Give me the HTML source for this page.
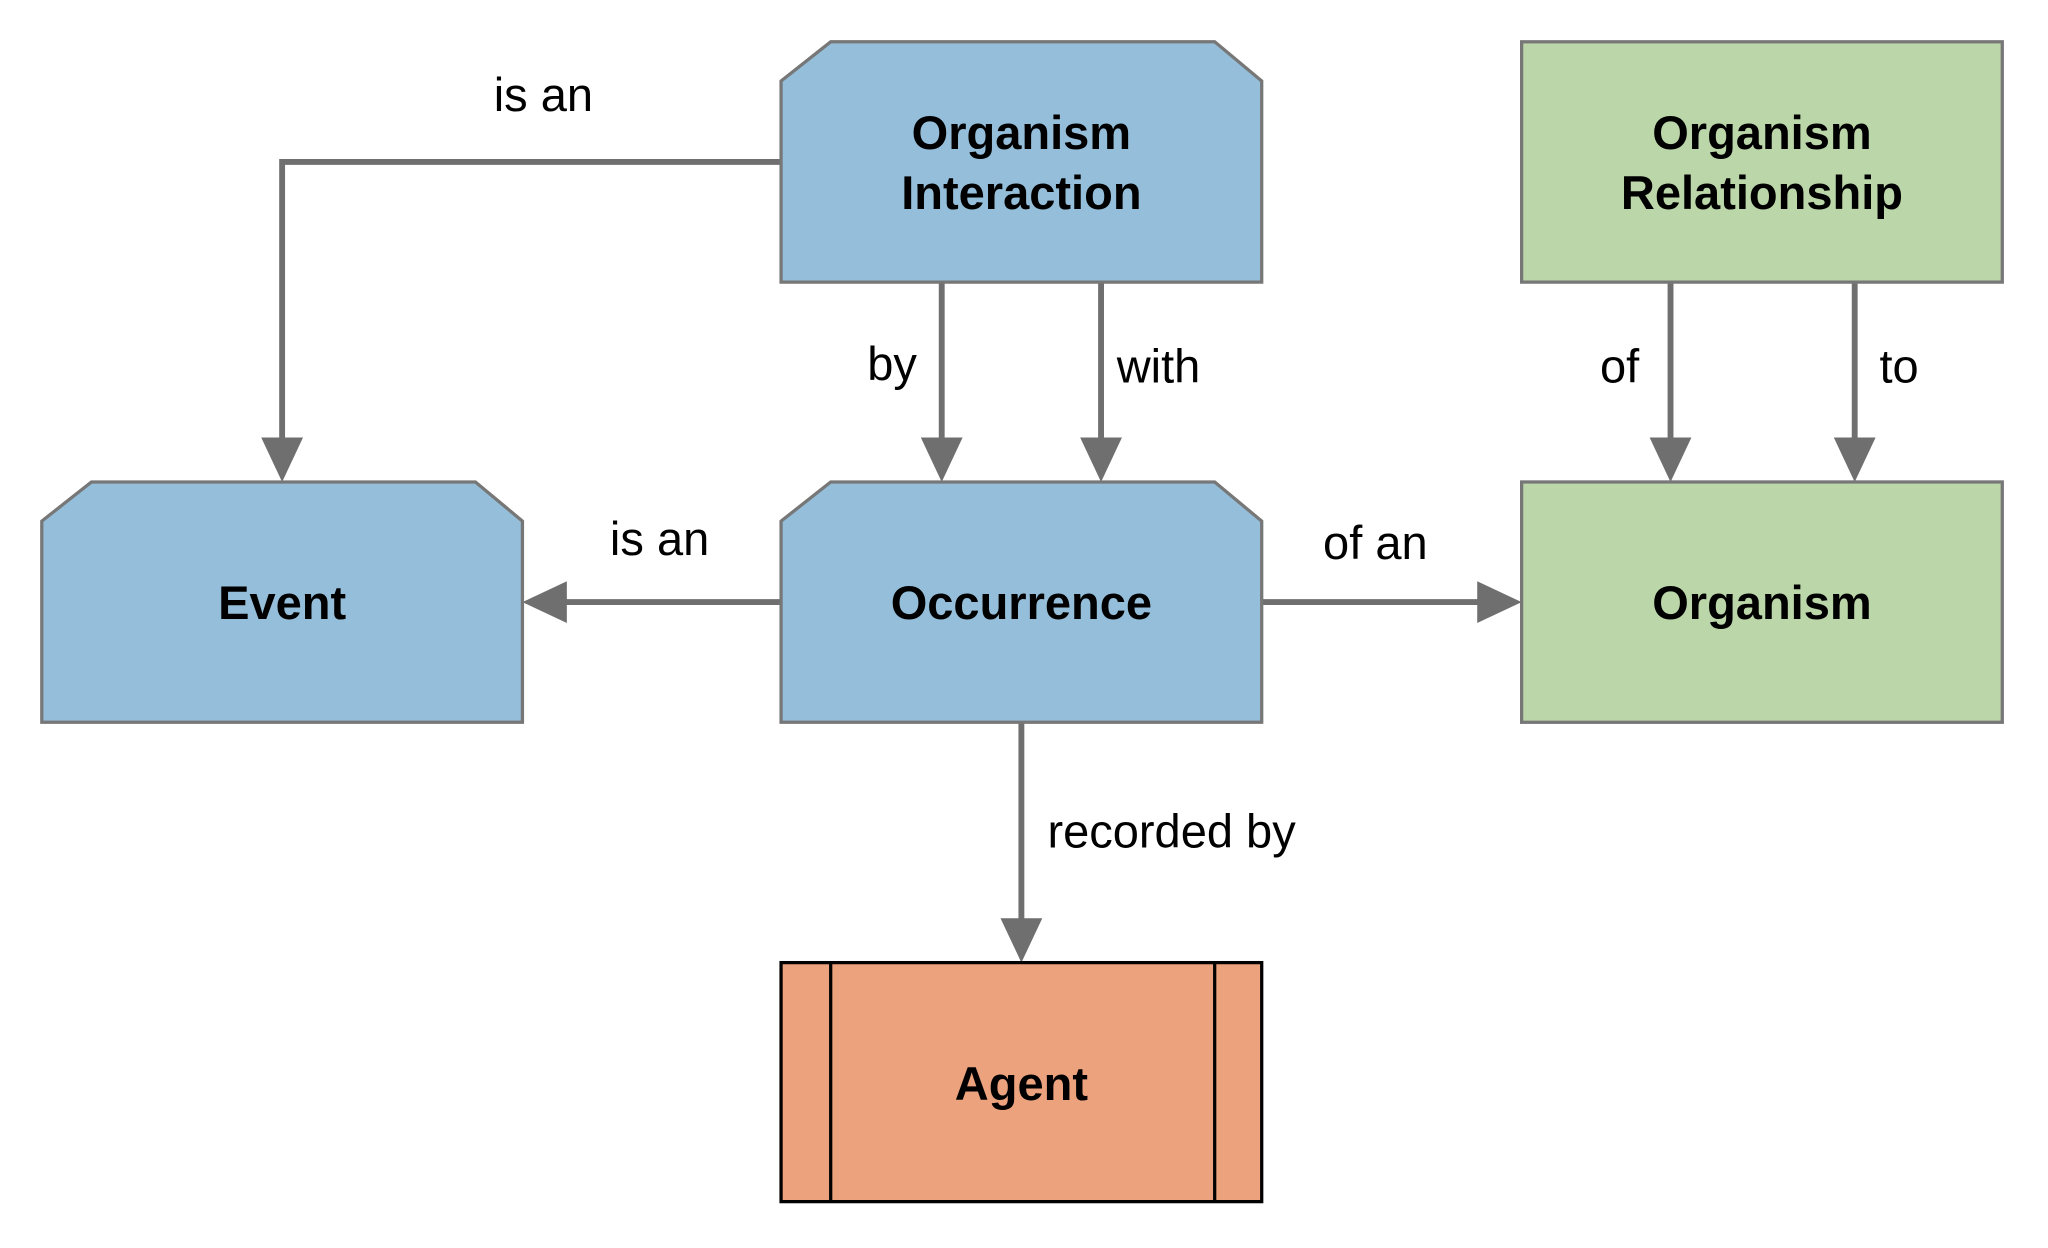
<!DOCTYPE html>
<html><head><meta charset="utf-8"><style>html,body{margin:0;padding:0;background:#fff;}svg{display:block}</style></head>
<body>
<svg width="2048" height="1248" viewBox="0 0 1568 955.5" preserveAspectRatio="none" xmlns="http://www.w3.org/2000/svg" font-family="'Liberation Sans', Arial, sans-serif">
<g stroke="#6f6f6f" stroke-width="4.5" fill="none">
<polyline points="598,124 216,124 216,340"/>
<line x1="721" y1="216" x2="721" y2="340"/>
<line x1="843" y1="216" x2="843" y2="340"/>
<line x1="1279" y1="216" x2="1279" y2="340"/>
<line x1="1420" y1="216" x2="1420" y2="340"/>
<line x1="598" y1="461" x2="430" y2="461"/>
<line x1="966" y1="461" x2="1136" y2="461"/>
<line x1="782" y1="553" x2="782" y2="708"/>
</g>
<g fill="#6f6f6f">
<polygon points="200,335 232,335 216,369"/>
<polygon points="705,335 737,335 721,369"/>
<polygon points="827,335 859,335 843,369"/>
<polygon points="1263,335 1295,335 1279,369"/>
<polygon points="1404,335 1436,335 1420,369"/>
<polygon points="434,445 434,477 400,461"/>
<polygon points="1131,445 1131,477 1165,461"/>
<polygon points="766,703 798,703 782,737"/>
</g>
<g stroke="#777" stroke-width="2.5">
<polygon fill="#94bed9" points="598,62 636,32 930,32 966,62 966,216 598,216"/>
<polygon fill="#94bed9" points="32,399 70,369 364,369 400,399 400,553 32,553"/>
<polygon fill="#94bed9" points="598,399 636,369 930,369 966,399 966,553 598,553"/>
<rect fill="#bbd6a8" x="1165" y="32" width="368" height="184"/>
<rect fill="#bbd6a8" x="1165" y="369" width="368" height="184"/>
</g>
<g stroke="#000" stroke-width="2.5" fill="#eda27e">
<rect x="598" y="737" width="368" height="183"/>
<line x1="636" y1="737" x2="636" y2="920"/>
<line x1="930" y1="737" x2="930" y2="920"/>
</g>
<g font-weight="bold" font-size="36" text-anchor="middle" fill="#000">
<text x="782" y="114">Organism</text>
<text x="782" y="160">Interaction</text>
<text x="1349" y="114">Organism</text>
<text x="1349" y="160">Relationship</text>
<text x="216" y="474">Event</text>
<text x="782" y="474">Occurrence</text>
<text x="1349" y="474">Organism</text>
<text x="782" y="842">Agent</text>
</g>
<g font-size="36" text-anchor="middle" fill="#000">
<text x="416" y="85">is an</text>
<text x="683" y="291">by</text>
<text x="887" y="293">with</text>
<text x="1240" y="293">of</text>
<text x="1454" y="293">to</text>
<text x="505" y="425">is an</text>
<text x="1053" y="428">of an</text>
<text x="897" y="649">recorded by</text>
</g>
</svg>
</body></html>
